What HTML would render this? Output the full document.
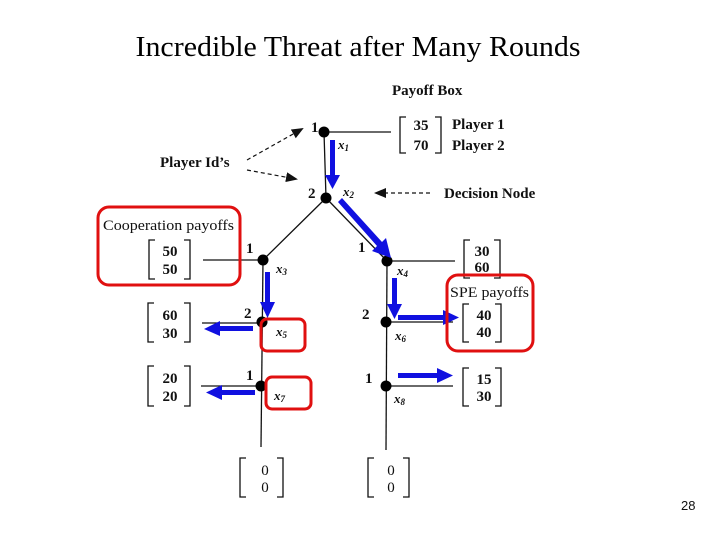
<!DOCTYPE html>
<html><head><meta charset="utf-8"><style>
html,body{margin:0;padding:0;background:#fff;}
svg{display:block;}
.b{font-family:"Liberation Serif",serif;font-weight:bold;font-size:15px;fill:#111;}
.i{font-family:"Liberation Serif",serif;font-weight:bold;font-style:italic;font-size:13px;fill:#111;}
</style></head><body>
<svg width="720" height="540" viewBox="0 0 720 540" xmlns="http://www.w3.org/2000/svg">
<defs>
<marker id="bh" markerWidth="12" markerHeight="10" refX="10" refY="5" orient="auto" markerUnits="userSpaceOnUse"><path d="M0,0 L12,5 L0,10 z" fill="#111"/></marker>
</defs>
<text x="358" y="56" text-anchor="middle" font-family="Liberation Serif, serif" font-size="28" textLength="445" lengthAdjust="spacingAndGlyphs">Incredible Threat after Many Rounds</text>

<g stroke="#111" stroke-width="1.3" fill="none">
<line x1="324" y1="132" x2="391" y2="132"/>
<line x1="324" y1="132" x2="326" y2="198"/>
<line x1="326" y1="198" x2="263" y2="260"/>
<line x1="326" y1="198" x2="387" y2="261"/>
<line x1="203" y1="260" x2="263" y2="260"/>
<line x1="387" y1="261" x2="455" y2="261"/>
<line x1="263" y1="260" x2="261" y2="447"/>
<line x1="387" y1="261" x2="386" y2="450"/>
<line x1="202" y1="323" x2="262" y2="323"/>
<line x1="201" y1="386" x2="261" y2="386"/>
<line x1="386" y1="322" x2="453" y2="322"/>
<line x1="386" y1="386" x2="453" y2="386"/>
</g>
<g fill="#000">
<circle cx="324" cy="132" r="5.5"/><circle cx="326" cy="198" r="5.5"/>
<circle cx="263" cy="260" r="5.5"/><circle cx="387" cy="261" r="5.5"/>
<circle cx="262" cy="322" r="5.5"/><circle cx="386" cy="322" r="5.5"/>
<circle cx="261" cy="386" r="5.5"/><circle cx="386" cy="386" r="5.5"/>
</g>

<g stroke="#111" stroke-width="1.2" stroke-dasharray="4,3" fill="none">
<line x1="247" y1="160" x2="302" y2="129" marker-end="url(#bh)"/>
<line x1="247" y1="170" x2="296" y2="179" marker-end="url(#bh)"/>
<line x1="430" y1="193" x2="376" y2="193" marker-end="url(#bh)"/>
</g>
<text x="160" y="167" class="b">Player Id’s</text>
<text x="392" y="95" class="b">Payoff Box</text>
<text x="444" y="198" class="b" font-size="16">Decision Node</text>
<text x="452" y="129" class="b">Player 1</text>
<text x="452" y="150" class="b">Player 2</text>

<g class="b">
<text x="311" y="132">1</text><text x="308" y="198">2</text>
<text x="246" y="253">1</text><text x="358" y="252">1</text>
<text x="244" y="318">2</text><text x="362" y="319">2</text>
<text x="246" y="380">1</text><text x="365" y="383">1</text>
</g>
<g class="i">
<text x="338" y="149">x<tspan font-size="9" dy="2">1</tspan></text>
<text x="343" y="196">x<tspan font-size="9" dy="2">2</tspan></text>
<text x="276" y="273">x<tspan font-size="9" dy="2">3</tspan></text>
<text x="397" y="275">x<tspan font-size="9" dy="2">4</tspan></text>
<text x="276" y="336">x<tspan font-size="9" dy="2">5</tspan></text>
<text x="395" y="340">x<tspan font-size="9" dy="2">6</tspan></text>
<text x="274" y="400">x<tspan font-size="9" dy="2">7</tspan></text>
<text x="394" y="403">x<tspan font-size="9" dy="2">8</tspan></text>
</g>

<g stroke="#111" stroke-width="1.3" fill="none">
<path d="M406,117 h-6 v36 h6 M435,117 h6 v36 h-6"/>
<path d="M155,240 h-6 v39 h6 M184,240 h6 v39 h-6"/>
<path d="M154,303 h-6 v39 h6 M184,303 h6 v39 h-6"/>
<path d="M154,366 h-6 v40 h6 M184,366 h6 v40 h-6"/>
<path d="M470,240 h-6 v38 h6 M494,240 h6 v38 h-6"/>
<path d="M469,304 h-6 v38 h6 M495,304 h6 v38 h-6"/>
<path d="M469,368 h-6 v38 h6 M495,368 h6 v38 h-6"/>
<path d="M246,458 h-6 v39 h6 M277,458 h6 v39 h-6"/>
<path d="M374,458 h-6 v39 h6 M403,458 h6 v39 h-6"/>
</g>
<g class="b" text-anchor="middle" font-size="16">
<text x="421" y="130">35</text><text x="421" y="150">70</text>
<text x="170" y="256">50</text><text x="170" y="274">50</text>
<text x="170" y="320">60</text><text x="170" y="338">30</text>
<text x="170" y="383">20</text><text x="170" y="401">20</text>
<text x="482" y="256">30</text><text x="482" y="272">60</text>
<text x="484" y="320">40</text><text x="484" y="337">40</text>
<text x="484" y="384">15</text><text x="484" y="401">30</text>
<text x="265" y="475" font-weight="normal">0</text><text x="265" y="492" font-weight="normal">0</text>
<text x="391" y="475" font-weight="normal">0</text><text x="391" y="492" font-weight="normal">0</text>
</g>

<g fill="#1010e0">
<rect x="330" y="140" width="5" height="36"/><path d="M325,175 L340,175 L332.5,189 z"/>
<path d="M338,202 L342,198 L382,242 L386,238 L391,258 L372,251 L377,246 z"/>
<rect x="265" y="272" width="5" height="32"/><path d="M260,302 L275,302 L267.5,318 z"/>
<rect x="392" y="278" width="5" height="28"/><path d="M387,304 L402,304 L394.5,319 z"/>
<rect x="398" y="315" width="46" height="5"/><path d="M443,310 L459,317.5 L443,325 z"/>
<rect x="398" y="373" width="40" height="5"/><path d="M437,368 L453,375.5 L437,383 z"/>
<rect x="218" y="326" width="35" height="5"/><path d="M220,321 L204,329 L220,336 z"/>
<rect x="220" y="390" width="35" height="5"/><path d="M222,385 L206,392.5 L222,400 z"/>
</g>

<g stroke="#e01010" stroke-width="3" fill="none">
<rect x="98" y="207" width="142" height="78" rx="11"/>
<rect x="447" y="275" width="86" height="76" rx="11"/>
<rect x="261" y="319" width="44" height="32" rx="6"/>
<rect x="266" y="377" width="45" height="32" rx="6"/>
</g>
<text x="103" y="230" font-family="Liberation Serif, serif" font-size="15" fill="#111" textLength="131" lengthAdjust="spacingAndGlyphs">Cooperation payoffs</text>
<text x="450" y="297" font-family="Liberation Serif, serif" font-size="15" fill="#111" textLength="79" lengthAdjust="spacingAndGlyphs">SPE payoffs</text>

<text x="681" y="510" font-family="Liberation Sans, sans-serif" font-size="13" fill="#111">28</text>
</svg>
</body></html>
